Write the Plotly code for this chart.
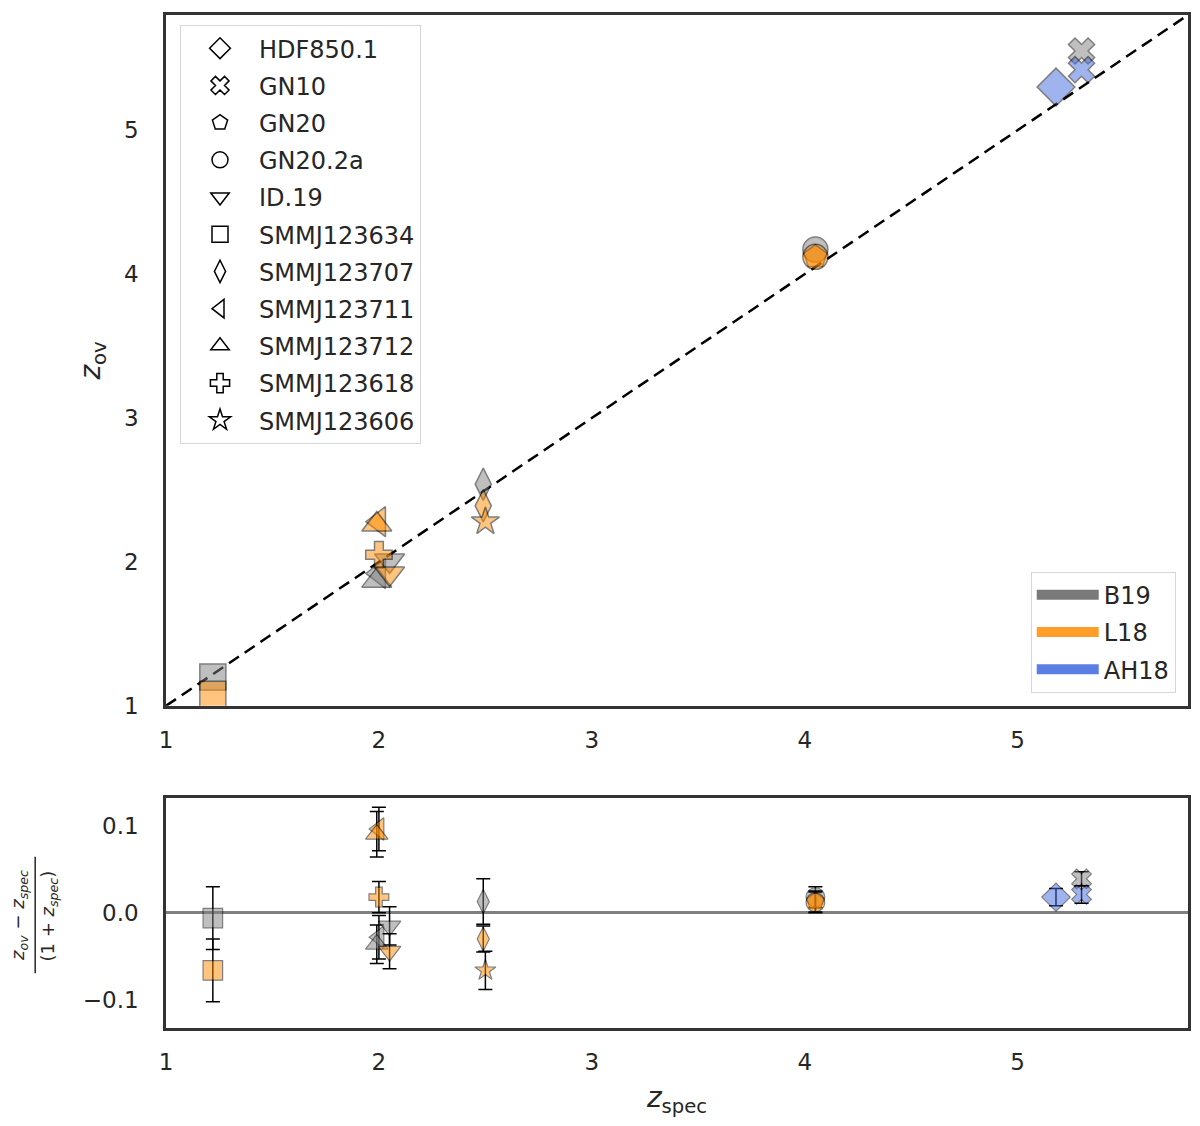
import plotly.graph_objects as go
from plotly.subplots import make_subplots

# Sources and their marker symbols (legend order)
SOURCES = ["HDF850.1", "GN10", "GN20", "GN20.2a", "ID.19", "SMMJ123634",
           "SMMJ123707", "SMMJ123711", "SMMJ123712", "SMMJ123618", "SMMJ123606"]
SYMBOLS = {"HDF850.1": "diamond", "GN10": "x", "GN20": "pentagon", "GN20.2a": "circle",
           "ID.19": "triangle-down", "SMMJ123634": "square", "SMMJ123707": "diamond-tall",
           "SMMJ123711": "triangle-left", "SMMJ123712": "triangle-up", "SMMJ123618": "cross",
           "SMMJ123606": "star"}
SIZES = {"diamond": 29, "x": 23, "pentagon": 24, "circle": 25, "triangle-down": 26,
         "square": 26, "diamond-tall": 23, "triangle-left": 26, "triangle-up": 26,
         "cross": 22, "star": 21}

# B19
b19_src = ["SMMJ123634", "SMMJ123711", "SMMJ123712", "ID.19", "SMMJ123707", "GN20.2a", "GN10"]
b19_zspec = [1.22, 2.00, 1.99, 2.05, 2.49, 4.05, 5.30]
b19_zov = [1.20, 1.92, 1.87, 2.01, 2.54, 4.17, 5.55]
b19_dz = [-0.006, -0.028, -0.036, -0.015, 0.013, 0.018, 0.039]
b19_err = [0.036, 0.025, 0.022, 0.022, 0.026, 0.012, 0.008]

# L18
l18_src = ["SMMJ123634", "SMMJ123711", "SMMJ123712", "SMMJ123618", "ID.19",
           "SMMJ123707", "SMMJ123606", "GN20", "GN20.2a"]
l18_zspec = [1.22, 2.00, 1.99, 2.00, 2.05, 2.49, 2.50, 4.05, 4.05]
l18_zov = [1.08, 2.28, 2.26, 2.05, 1.92, 2.39, 2.28, 4.12, 4.12]
l18_dz = [-0.066, 0.096, 0.090, 0.018, -0.044, -0.030, -0.066, 0.013, 0.012]
l18_err = [0.036, 0.025, 0.026, 0.018, 0.020, 0.015, 0.022, 0.012, 0.012]

# AH18
ah18_src = ["HDF850.1", "GN10"]
ah18_zspec = [5.18, 5.30]
ah18_zov = [5.30, 5.42]
ah18_dz = [0.018, 0.021]
ah18_err = [0.010, 0.010]

CATALOGS = [("B19", "#808080", "#7a7a7a", b19_src, b19_zspec, b19_zov, b19_dz, b19_err),
            ("L18", "#ff8c00", "#ff9f2a", l18_src, l18_zspec, l18_zov, l18_dz, l18_err),
            ("AH18", "#4169e1", "#5b7ee4", ah18_src, ah18_zspec, ah18_zov, ah18_dz, ah18_err)]

one_to_one = [1, 5.8]

FONT = "DejaVu Sans"
TXT = "#262626"

fig = make_subplots(rows=2, cols=1, row_heights=[0.75, 0.25], vertical_spacing=0.09)

fig.add_trace(go.Scatter(x=one_to_one, y=one_to_one, mode="lines", showlegend=False,
                         line=dict(color="black", width=2.5, dash="12px,7px")), row=1, col=1)

for name, col, patch, src, zs, zo, dz, err in CATALOGS:
    syms = [SYMBOLS[s] for s in src]
    sizes = [SIZES[s] for s in syms]
    fig.add_trace(go.Scatter(
        x=zs, y=zo, mode="markers", showlegend=False,
        marker=dict(symbol=syms, size=sizes, color=col, opacity=0.5,
                    line=dict(color="black", width=1.5))), row=1, col=1)
    fig.add_trace(go.Scatter(
        x=zs, y=dz, mode="markers", showlegend=False,
        error_y=dict(type="data", array=err, color="black", thickness=1.5, width=7),
        marker=dict(symbol=syms, size=[s * 0.75 for s in sizes], color=col, opacity=0.5,
                    line=dict(color="black", width=1.2))), row=2, col=1)

# marker legend
for s in SOURCES:
    fig.add_trace(go.Scatter(
        x=[None], y=[None], mode="markers", name=s, legend="legend", legendgroup=s,
        marker=dict(symbol=SYMBOLS[s] + "-open", size=16, color="black",
                    line=dict(width=1.5, color="black"))), row=1, col=1)

# catalog legend
for name, col, patch, *_ in CATALOGS:
    fig.add_trace(go.Scatter(
        x=[None], y=[None], mode="lines", name=name, legend="legend2", legendgroup=name,
        line=dict(color=patch, width=18)), row=1, col=1)

axis_common = dict(showgrid=False, zeroline=False, showline=True, mirror=True,
                   linecolor="#333333", linewidth=2.5, ticks="",
                   tickfont=dict(family=FONT, size=23, color=TXT))

fig.update_xaxes(range=[1, 5.8], tickvals=[1, 2, 3, 4, 5], ticklabelstandoff=12, **axis_common)
fig.update_yaxes(range=[1, 5.8], tickvals=[1, 2, 3, 4, 5], ticklabelstandoff=20,
                 row=1, col=1, **axis_common)
fig.update_yaxes(range=[-0.132, 0.132], tickvals=[-0.1, 0.0, 0.1], tickformat=".1f",
                 ticklabelstandoff=20, row=2, col=1, **{**axis_common, "zeroline": True})
fig.update_yaxes(zerolinecolor="#808080", zerolinewidth=2.5, row=2, col=1)

legend_common = dict(bgcolor="white", bordercolor="#d6d6d6", borderwidth=1,
                     font=dict(family=FONT, size=24, color=TXT), tracegroupgap=3)

fig.update_layout(
    width=1192, height=1118,
    margin=dict(l=158, r=12, t=4, b=98),
    paper_bgcolor="white", plot_bgcolor="white",
    font=dict(family=FONT, color=TXT),
    xaxis=dict(domain=[0, 1]), yaxis=dict(domain=[0.318, 1.0]),
    xaxis2=dict(domain=[0, 1]), yaxis2=dict(domain=[0.0, 0.2274]),
    legend=dict(x=0.0137, y=0.99, xanchor="left", yanchor="top", itemwidth=68, **legend_common),
    legend2=dict(x=0.988, y=0.331, xanchor="right", yanchor="bottom", itemwidth=62, **legend_common),
)

fig.update_xaxes(title=dict(text="<i>z</i><sub>spec</sub>",
                            font=dict(family=FONT, size=28, color=TXT), standoff=14),
                 row=2, col=1)
fig.update_yaxes(title=dict(text="<i>z</i><sub>ov</sub>",
                            font=dict(family=FONT, size=28, color=TXT), standoff=16),
                 row=1, col=1)

# residual axis label as a stacked fraction
fig.add_annotation(text="<i>z</i><sub><i>ov</i></sub> − <i>z</i><sub><i>spec</i></sub>",
                   xref="paper", yref="paper", x=-0.1445, y=0.111, textangle=-90,
                   xanchor="center", yanchor="middle",
                   showarrow=False, font=dict(family=FONT, size=18, color=TXT))
fig.add_annotation(text="(1 + <i>z</i><sub><i>spec</i></sub>)",
                   xref="paper", yref="paper", x=-0.1145, y=0.111, textangle=-90,
                   xanchor="center", yanchor="middle",
                   showarrow=False, font=dict(family=FONT, size=18, color=TXT))
fig.add_shape(type="line", xref="paper", yref="paper", x0=-0.128, x1=-0.128,
              y0=0.054, y1=0.169, line=dict(color=TXT, width=1.5))

fig.write_html("out.html")
